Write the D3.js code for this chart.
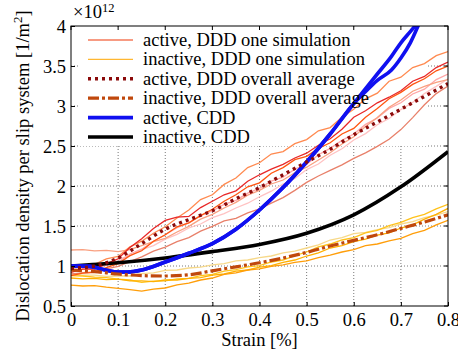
<!DOCTYPE html>
<html><head><meta charset="utf-8">
<script src="https://cdn.jsdelivr.net/npm/d3@7"></script>
<style>
html,body{margin:0;padding:0;background:#fff;}
svg{display:block;font-family:"Liberation Serif","Times New Roman",serif;}
</style></head>
<body><svg id="c" width="458" height="354"></svg>
<script>
// ---------- data ----------
const strainPts = [0,0.025,0.05,0.075,0.1,0.125,0.15,0.175,0.2,0.225,0.25,0.275,0.3,0.325,0.35,0.375,0.4,0.425,0.45,0.475,0.5,0.525,0.55,0.575,0.6,0.625,0.65,0.675,0.7,0.725,0.75,0.775,0.8];

const activeSim1 = [0.98,1.01,1.02,1.09,1.12,1.24,1.31,1.41,1.49,1.60,1.70,1.83,1.89,2.02,2.10,2.23,2.29,2.40,2.43,2.53,2.58,2.69,2.73,2.86,2.96,3.09,3.16,3.31,3.36,3.48,3.53,3.63,3.68];
const activeSim2 = [0.92,0.96,0.96,1.03,1.09,1.23,1.34,1.47,1.57,1.61,1.62,1.73,1.81,1.89,1.94,2.06,2.14,2.21,2.27,2.35,2.41,2.51,2.59,2.71,2.86,2.94,3.04,3.11,3.19,3.31,3.37,3.48,3.55];
const activeSim3 = [0.88,0.91,0.92,0.98,1.03,1.13,1.19,1.31,1.39,1.49,1.54,1.63,1.71,1.81,1.89,1.99,2.04,2.16,2.23,2.33,2.37,2.47,2.54,2.65,2.72,2.86,2.97,3.09,3.17,3.27,3.34,3.44,3.50];
const activeSim4 = [0.95,0.965,0.965,1.01,1.05,1.15,1.21,1.31,1.39,1.48,1.54,1.63,1.69,1.77,1.82,1.91,1.97,2.06,2.11,2.21,2.27,2.39,2.47,2.57,2.65,2.77,2.85,2.97,3.04,3.15,3.21,3.33,3.40];
const activeSim5 = [1.0,0.995,1.015,1.025,1.085,1.125,1.205,1.255,1.335,1.395,1.475,1.525,1.605,1.655,1.725,1.785,1.865,1.935,2.025,2.095,2.205,2.275,2.385,2.465,2.575,2.655,2.765,2.845,2.955,3.045,3.155,3.245,3.34];
const activeSim6 = [0.9,0.915,0.925,0.965,0.995,1.055,1.115,1.185,1.235,1.305,1.355,1.435,1.495,1.565,1.595,1.665,1.715,1.785,1.855,1.945,2.045,2.125,2.195,2.265,2.345,2.415,2.495,2.585,2.705,2.855,3.015,3.155,3.25];
const activeSim7 = [1.2,1.205,1.19,1.195,1.18,1.205,1.255,1.305,1.345,1.425,1.495,1.585,1.645,1.725,1.795,1.885,1.945,2.025,2.075,2.165,2.235,2.325,2.415,2.525,2.615,2.745,2.855,2.985,3.075,3.185,3.245,3.295,3.33];

const inactiveSim1 = [0.88,0.875,0.86,0.855,0.835,0.825,0.795,0.81,0.815,0.84,0.845,0.88,0.895,0.935,0.955,0.99,1.005,1.05,1.075,1.13,1.175,1.24,1.275,1.325,1.355,1.415,1.445,1.505,1.545,1.605,1.645,1.715,1.77];
const inactiveSim2 = [0.9,0.885,0.885,0.87,0.875,0.875,0.905,0.915,0.945,0.95,0.975,0.985,1.015,1.03,1.065,1.075,1.105,1.125,1.165,1.185,1.225,1.265,1.325,1.355,1.405,1.42,1.455,1.48,1.525,1.555,1.605,1.635,1.68];
const inactiveSim3 = [0.85,0.84,0.845,0.83,0.835,0.815,0.815,0.805,0.825,0.825,0.845,0.855,0.885,0.9,0.935,0.95,0.985,1.005,1.045,1.075,1.125,1.165,1.225,1.255,1.305,1.335,1.385,1.415,1.475,1.515,1.585,1.645,1.72];
const inactiveSim4 = [0.76,0.75,0.755,0.735,0.72,0.705,0.685,0.71,0.725,0.765,0.785,0.825,0.85,0.895,0.915,0.95,0.965,0.995,1.015,1.045,1.065,1.105,1.135,1.175,1.205,1.255,1.275,1.315,1.345,1.405,1.445,1.515,1.57];

const avgStrain = [0,0.05,0.1,0.15,0.2,0.25,0.3,0.35,0.4,0.45,0.5,0.55,0.6,0.65,0.7,0.75,0.8];
const activeAvg = [0.97,1.0,1.1,1.28,1.46,1.58,1.69,1.84,1.98,2.14,2.3,2.46,2.64,2.8,2.96,3.12,3.28];
const inactiveAvg = [0.95,0.93,0.9,0.88,0.875,0.89,0.94,0.99,1.04,1.1,1.17,1.25,1.32,1.39,1.47,1.55,1.64];

const cddStrainA = [0,0.02,0.04,0.06,0.08,0.1,0.12,0.15,0.2,0.25,0.3,0.35,0.4,0.45,0.5,0.55,0.6,0.62,0.65,0.68,0.7,0.72,0.74];
const activeCddA = [1.0,1.0,0.995,0.97,0.94,0.925,0.925,0.95,1.05,1.16,1.28,1.46,1.70,1.98,2.3,2.65,3.03,3.18,3.40,3.62,3.79,3.93,4.07];
const activeCddB = [1.0,1.0,0.995,0.97,0.94,0.925,0.925,0.95,1.05,1.16,1.28,1.46,1.70,1.98,2.3,2.65,3.03,3.15,3.32,3.45,3.60,3.79,4.05];
const cddStrainI = [0,0.1,0.2,0.3,0.4,0.5,0.6,0.7,0.8];
const inactiveCdd = [1.0,1.04,1.1,1.18,1.27,1.41,1.64,1.99,2.43];

const xTicks = [0,0.1,0.2,0.3,0.4,0.5,0.6,0.7,0.8];
const xTickLabels = ["0","0.1","0.2","0.3","0.4","0.5","0.6","0.7","0.8"];
const yTicks = [0.5,1,1.5,2,2.5,3,3.5,4];
const yTickLabels = ["0.5","1","1.5","2","2.5","3","3.5","4"];

const legendLabels = ["active, DDD one simulation","inactive, DDD one simulation","active, DDD overall average","inactive, DDD overall average","active, CDD","inactive, CDD"];

// ---------- drawing ----------
const svg = d3.select("#c");
const L=71,R=448,T=26,B=306;
const x = d3.scaleLinear().domain([0,0.8]).range([L,R]);
const y = d3.scaleLinear().domain([0.5,4]).range([B,T]);
const FS = 18.5;

svg.append("clipPath").attr("id","clip").append("rect")
  .attr("x",L).attr("y",T).attr("width",R-L).attr("height",B-T);

// grid
const grid = svg.append("g").attr("stroke","#555").attr("stroke-width",0.8).attr("stroke-dasharray","1,2");
xTicks.slice(1,-1).forEach(t=>grid.append("line").attr("x1",x(t)).attr("x2",x(t)).attr("y1",T).attr("y2",B));
yTicks.slice(1,-1).forEach(t=>grid.append("line").attr("x1",L).attr("x2",R).attr("y1",y(t)).attr("y2",y(t)));

// legend background
svg.append("rect").attr("x",80).attr("y",29).attr("width",347).attr("height",117).attr("fill","#fff");

const plot = svg.append("g").attr("clip-path","url(#clip)");
const lineGen = (xs)=>d3.line().x((d,i)=>x(xs[i])).y(d=>y(d));
const smoothGen = (xs)=>d3.line().x((d,i)=>x(xs[i])).y(d=>y(d)).curve(d3.curveMonotoneX);

const inactiveSims = [
  {v:inactiveSim2,c:"#f7d98a"},
  {v:inactiveSim1,c:"#ffc21a"},
  {v:inactiveSim3,c:"#ffb000"},
  {v:inactiveSim4,c:"#ff9e0a"}
];
inactiveSims.forEach(s=>plot.append("path").attr("d",lineGen(strainPts)(s.v))
  .attr("fill","none").attr("stroke",s.c).attr("stroke-width",1.3));

const activeSims = [
  {v:activeSim5,c:"#ffc2c2"},
  {v:activeSim4,c:"#ffa6a6"},
  {v:activeSim7,c:"#f9a080"},
  {v:activeSim6,c:"#e8806a"},
  {v:activeSim1,c:"#ff8a50"},
  {v:activeSim3,c:"#ff5510"},
  {v:activeSim2,c:"#e82828"}
];
activeSims.forEach(s=>plot.append("path").attr("d",lineGen(strainPts)(s.v))
  .attr("fill","none").attr("stroke",s.c).attr("stroke-width",1.3));

// CDD
plot.append("path").attr("d",smoothGen(cddStrainI)(inactiveCdd))
  .attr("fill","none").attr("stroke","#000").attr("stroke-width",3.6);
plot.append("path").attr("d",smoothGen(cddStrainA)(activeCddB))
  .attr("fill","none").attr("stroke","#1010f0").attr("stroke-width",3.6);
plot.append("path").attr("d",smoothGen(cddStrainA)(activeCddA))
  .attr("fill","none").attr("stroke","#1010f0").attr("stroke-width",3.6);

// averages
plot.append("path").attr("d",smoothGen(avgStrain)(inactiveAvg))
  .attr("fill","none").attr("stroke","#c0480c").attr("stroke-width",3.2).attr("stroke-dasharray","11,3,3,3");
plot.append("path").attr("d",smoothGen(avgStrain)(activeAvg))
  .attr("fill","none").attr("stroke","#8b0a0a").attr("stroke-width",3.4).attr("stroke-dasharray","3,4");

// axes
const xAxis = d3.axisBottom(x).tickValues(xTicks).tickFormat((d,i)=>xTickLabels[i]).tickSizeInner(-4).tickSizeOuter(0).tickPadding(7);
const yAxis = d3.axisLeft(y).tickValues(yTicks).tickFormat((d,i)=>yTickLabels[i]).tickSizeInner(-4).tickSizeOuter(0).tickPadding(5);
const gx = svg.append("g").attr("transform",`translate(0,${B})`).call(xAxis);
const gy = svg.append("g").attr("transform",`translate(${L},0)`).call(yAxis);
[gx,gy].forEach(g=>{
  g.attr("font-family",null);
  g.select(".domain").remove();
  g.selectAll("text").style("font-family","'Liberation Serif','Times New Roman',serif").attr("font-size",FS).attr("fill","#000");
  g.selectAll("line").attr("stroke","#000");
});
gx.selectAll("text").attr("dy","0.72em");
gy.selectAll("text").attr("dy","0.34em");
// top/right ticks
const tk = svg.append("g").attr("stroke","#000");
xTicks.forEach(t=>tk.append("line").attr("x1",x(t)).attr("x2",x(t)).attr("y1",T).attr("y2",T+4));
yTicks.forEach(t=>tk.append("line").attr("x1",R).attr("x2",R-4).attr("y1",y(t)).attr("y2",y(t)));

svg.append("rect").attr("x",L).attr("y",T).attr("width",R-L).attr("height",B-T)
  .attr("fill","none").attr("stroke","#000").attr("stroke-width",1);

// legend
const legendStyles = [
  {c:"#f47a5a",w:1.3,d:null},
  {c:"#ffb732",w:1.3,d:null},
  {c:"#8b0a0a",w:3.4,d:"3,4"},
  {c:"#c0480c",w:3.2,d:"11,3,3,3"},
  {c:"#1010f0",w:3.6,d:null},
  {c:"#000",w:3.6,d:null}
];
const lg = svg.append("g");
legendLabels.forEach((lab,i)=>{
  const cy = 40 + i*19.4;
  const s = legendStyles[i];
  const ln = lg.append("line").attr("x1",88).attr("x2",133).attr("y1",cy).attr("y2",cy)
    .attr("stroke",s.c).attr("stroke-width",s.w);
  if(s.d) ln.attr("stroke-dasharray",s.d);
  lg.append("text").attr("x",143).attr("y",cy+6).attr("font-size",FS).attr("fill","#000").text(lab);
});

// exponent
const ex = svg.append("text").attr("x",73).attr("y",18).attr("font-size",FS).attr("fill","#000");
ex.append("tspan").text("\u00d710");
ex.append("tspan").attr("font-size",12.5).attr("dy",-6.5).text("12");

// axis labels
svg.append("text").attr("x",(L+R)/2).attr("y",346).attr("text-anchor","middle")
  .attr("font-size",FS).attr("fill","#000").text("Strain [%]");
const yl = svg.append("text").attr("transform",`translate(29,${(T+B)/2}) rotate(-90)`)
  .attr("text-anchor","middle").attr("font-size",FS).attr("fill","#000");
yl.append("tspan").text("Dislocation density per slip system [1/m");
yl.append("tspan").attr("font-size",13).attr("dy",-7).text("2");
yl.append("tspan").attr("dy",7).text("]");
</script>
</body></html>
